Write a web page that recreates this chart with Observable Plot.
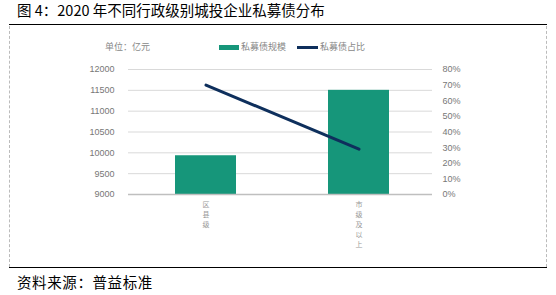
<!DOCTYPE html>
<html><head><meta charset="utf-8">
<script src="https://cdn.jsdelivr.net/npm/d3@7"></script>
<script src="https://cdn.jsdelivr.net/npm/@observablehq/plot@0.6"></script>
<style>
body{margin:0;background:#fff;width:556px;height:295px;overflow:hidden;position:relative;font-family:"Noto Sans CJK SC",sans-serif;}
.abs{position:absolute;}
#title{left:17px;top:1px;font-size:14.5px;color:#000;white-space:nowrap;line-height:18px;}
#source{left:17px;top:273px;font-size:14.5px;color:#000;white-space:nowrap;line-height:18px;letter-spacing:0.6px;}
#topline{left:9px;top:24px;width:538px;height:0;border-top:1.5px solid #000;}
#botline{left:9px;top:267px;width:538px;height:0;border-top:1.5px solid #000;}
#lb{left:9px;top:26px;width:0;height:241px;border-left:1px dashed #bbb;}
#rb{left:546px;top:26px;width:0;height:241px;border-left:1px dashed #bbb;}
.leg{font-size:9px;color:#888;white-space:nowrap;line-height:12px;}
#chart{left:0;top:0;}
</style></head>
<body>
<div id="title" class="abs">图 4：2020 年不同行政级别城投企业私募债分布</div>
<div id="topline" class="abs"></div>
<div id="lb" class="abs"></div>
<div id="rb" class="abs"></div>
<div id="chart" class="abs"></div>
<div id="botline" class="abs"></div>
<div id="source" class="abs">资料来源：普益标准</div>
<div class="abs leg" style="left:105px;top:41px;">单位：亿元</div>
<div class="abs" style="left:219px;top:45px;width:20px;height:5px;background:#16967a;"></div>
<div class="abs leg" style="left:241px;top:41px;">私募债规模</div>
<div class="abs" style="left:297px;top:46px;width:21px;height:3px;background:#0e2f5c;"></div>
<div class="abs leg" style="left:320px;top:41px;">私募债占比</div>
<script>
const categories = ["区县级", "市级及以上"];
const scaleValues = [9930, 11500];      // 私募债规模 (亿元)
const shareValues = [0.70, 0.29];       // 私募债占比
const leftTicks = [9000, 9500, 10000, 10500, 11000, 11500, 12000];
const rightTicks = [0, 0.1, 0.2, 0.3, 0.4, 0.5, 0.6, 0.7, 0.8];

const yMin = 9000, yMax = 12000, pMax = 0.8;
const toLeft = p => yMin + p / pMax * (yMax - yMin);

const bars = categories.map((c, i) => ({cat: c, v: scaleValues[i]}));
const line = categories.map((c, i) => ({cat: c, v: toLeft(shareValues[i])}));

const chart = Plot.plot({
  width: 556, height: 295,
  marginLeft: 128, marginRight: 124, marginTop: 69, marginBottom: 101,
  style: {fontFamily: "Liberation Sans, Arial, sans-serif", fontSize: "9px", background: "transparent", color: "#777"},
  x: {type: "band", domain: categories, range: [82, 482], padding: 0.6, label: null},
  y: {domain: [yMin, yMax], label: null},
  marks: [
    Plot.ruleY(leftTicks.slice(1), {stroke: "#d9d9d9", strokeWidth: 1}),
    Plot.barY(bars, {x: "cat", y1: yMin, y2: "v", fill: "#16967a"}),
    Plot.ruleY([yMin], {stroke: "#bfbfbf", strokeWidth: 1.5}),
    Plot.line(line, {x: "cat", y: "v", stroke: "#0e2f5c", strokeWidth: 3}),
    Plot.axisY(leftTicks, {anchor: "left", tickSize: 0, tickPadding: 14, fill: "#777", fontSize: 9,
      tickFormat: d => String(d)}),
    Plot.axisY(rightTicks.map(toLeft), {anchor: "right", tickSize: 0, tickPadding: 10, textAnchor: "start", fill: "#777", fontSize: 9,
      tickFormat: d => Math.round((d - yMin) / (yMax - yMin) * pMax * 100) + "%"}),
    Plot.axisX({tickSize: 0, tickPadding: 6, fontSize: 7, fill: "#999", lineHeight: 1.4,
      fontFamily: "Noto Sans CJK SC", tickFormat: d => d.split("").join("\n")})
  ]
});
document.getElementById("chart").appendChild(chart);
</script>
</body></html>
